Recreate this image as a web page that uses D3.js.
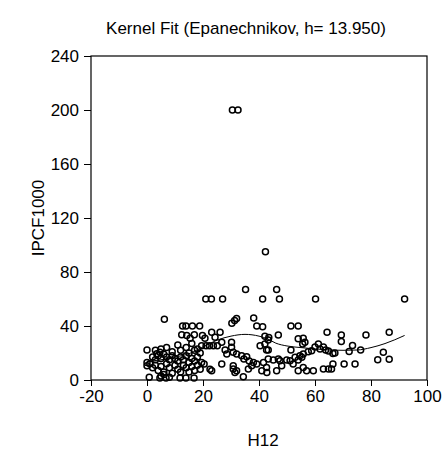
<!DOCTYPE html>
<html><head><meta charset="utf-8">
<script src="https://cdn.jsdelivr.net/npm/d3@7"></script>
<style>
body{margin:0;background:#fff;}
svg text{font-family:"Liberation Sans",Arial,sans-serif;fill:#000;}
</style></head>
<body><div id="chart"></div>
<script>
const title = "Kernel Fit (Epanechnikov, h= 13.950)";
const xLabel = "H12";
const yLabel = "IPCF1000";
const xTicks = [-20, 0, 20, 40, 60, 80, 100];
const yTicks = [0, 40, 80, 120, 160, 200, 240];

// observed points (H12, IPCF1000)
const h12 = [
 30.5,32.5,42.3,35.2,46.3,21,23,27,41.3,47.3,60.2,92,6.2,
 12.7,13.9,16.2,18.8,30.3,31.3,32,38.1,39.2,41.3,51.4,54,
 12.4,14.2,15.4,16.9,19.8,23.1,26.1,20.7,24.3,42.1,43.5,43.3,46.9,55.8,54,64.3,69.4,69.4,78.2,86.5,
 0,3.5,4.6,19.5,21.1,22.3,23.7,25.1,26.7,30.2,30.2,27.9,28.5,30.8,32,33.8,35.6,34.6,40.4,42.1,42.7,43.3,51.4,55.6,56.4,57.6,55.8,54.6,60,61.2,63,63.8,64.8,66.4,58.8,61.8,73.4,72.2,76.3,67.1,84.4,
 0,0,43.3,45.1,46.9,47.5,49.9,51.1,52.9,54,55.3,86.5,82.4,66.4,70.4,74.3,19.5,20.4,26.7,30.8,37.4,38,39.2,41.6,36.5,
 22.5,23.1,30.8,31.4,32,34.4,36.2,41,42.7,42.8,46.3,48.1,52.2,54,55.8,57,59.4,63,64.8,65.9,
 2,3,4,5,6,7,8,9,10,11,12,13,14,15,16,17,18,1,2,3,4,5,6,7,8,9,10,11,12,13,14,15,16,17,18,19,5,6,8,0.8,4.6,6.8,11.8,13.9,16.8,3,5,9,12,15,17,19,7,11,14,16,18
];
const ipcf = [
 200,200,95,67,67,60,60,60,60,60,60,60,45,
 40,40,40,40,42,44,45.5,46,40,39.5,40,40,
 33.5,33,31,33.5,33,35.3,35.3,31,31.6,32.5,31.5,29.7,33.4,31,30.5,35.3,33.4,28.5,33.4,35.3,
 22.2,19.5,20.5,25.4,25.4,25.4,25.4,25.4,28,28,24.2,22.2,19.3,20.5,19.3,18,17.3,15.6,25.4,26.7,22.2,22.2,22.2,26.7,28,21,19.3,18,24.5,26.7,24.5,22.2,21.5,19.7,21.7,23,25.6,21.2,22.2,20,20.5,
 13,10.5,15.6,14.8,15.6,14.3,14.8,14.3,16.8,14.8,16.8,15.3,15,11.9,11.9,11.9,13,11.9,11.9,10.6,10.6,13,11.9,13,14,
 8,6.9,8.2,5.6,6.9,2.4,8.2,6.9,9.3,5.6,6.9,10.6,11.9,6.9,9.3,6.9,6.9,8.2,8.2,8.2,
 17,15,18,16,19,17,15,18,16,14,17,15,18,13,16,14,17,12,9,11,7,10,6,12,9,5,11,8,6,11,9,6,10,7,11,8,3,4,2,2,1.5,1.5,1.5,1.5,1.5,22,23,21,22,20,22,20,24,26,24,27,23
];

// kernel fit curve
const fitX = [0,5,10,15,20,25,30,35,40,43,46,50,55,60,65,70,75,80,85,92];
const fitY = [13.5,15,17,19.5,24.5,29.5,32.5,33.8,32.5,30.5,27.3,25.2,24,23,22.3,22,22.2,24,27,33];

const W = 445, H = 453;
const m = {left:91, right:18, top:56, bottom:73};
const svg = d3.select("#chart").append("svg").attr("width",W).attr("height",H);
const x = d3.scaleLinear().domain([-20,100]).range([m.left, W-m.right]);
const y = d3.scaleLinear().domain([0,240]).range([H-m.bottom, m.top]);

const fmt = d => String(d); // plain hyphen for negatives
const xa = svg.append("g").attr("transform",`translate(0,${H-m.bottom})`)
  .call(d3.axisBottom(x).tickValues(xTicks).tickSize(6).tickPadding(4).tickFormat(fmt));
const ya = svg.append("g").attr("transform",`translate(${m.left},0)`)
  .call(d3.axisLeft(y).tickValues(yTicks).tickSize(7).tickPadding(5).tickFormat(fmt));
[xa,ya].forEach(g=>{
  g.select(".domain").remove();
  g.selectAll("line").attr("stroke","#000");
  g.selectAll("text").style("font-size","17px").attr("fill","#000");
});
// frame
svg.append("rect").attr("x",x(-20)).attr("y",y(240)).attr("width",x(100)-x(-20)).attr("height",y(0)-y(240))
  .attr("fill","none").attr("stroke","#000").attr("stroke-width",1.2);

const pts = h12.map((v,i)=>[v, ipcf[i]]);
svg.append("g").selectAll("circle").data(pts).join("circle")
  .attr("cx",d=>x(d[0])).attr("cy",d=>y(d[1])).attr("r",3)
  .attr("fill","none").attr("stroke","#000").attr("stroke-width",1.5);

svg.append("path").datum(fitX.map((v,i)=>[v,fitY[i]]))
  .attr("d", d3.line().x(d=>x(d[0])).y(d=>y(d[1])).curve(d3.curveMonotoneX))
  .attr("fill","none").attr("stroke","#000").attr("stroke-width",1);

svg.append("text").attr("x",246).attr("y",34).attr("text-anchor","middle").style("font-size","17px").text(title);
svg.append("text").attr("x",263).attr("y",446).attr("text-anchor","middle").style("font-size","17px").text(xLabel);
svg.append("text").attr("transform",`translate(44,${(y(0)+y(240))/2}) rotate(-90)`).attr("text-anchor","middle").style("font-size","17px").text(yLabel);
</script></body></html>
